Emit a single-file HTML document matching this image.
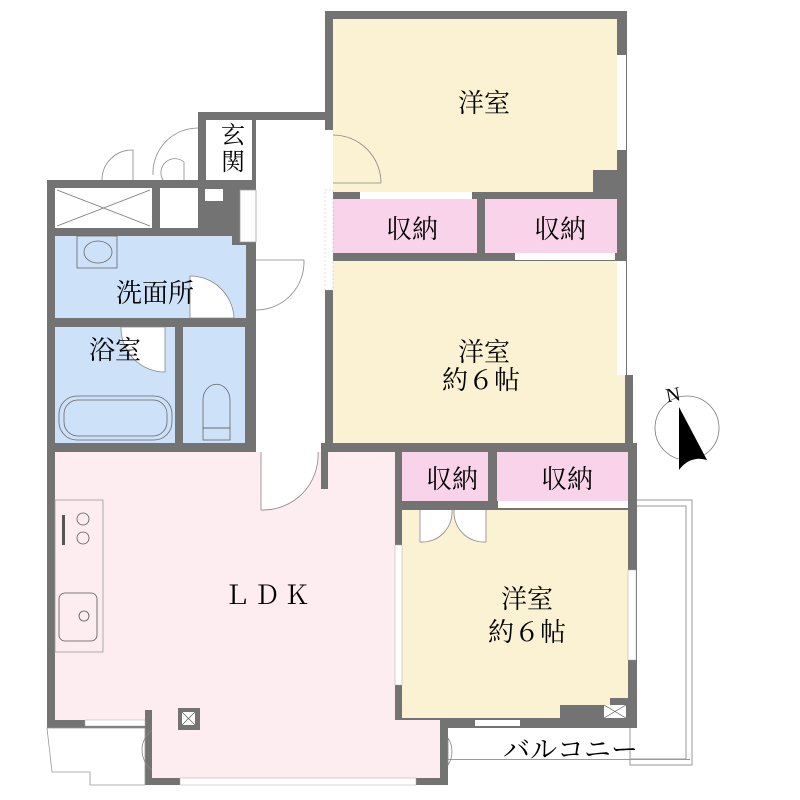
<!DOCTYPE html>
<html><head><meta charset="utf-8"><style>
html,body{margin:0;padding:0;background:#fff;}
svg{display:block;}
text{font-family:"Liberation Serif","Noto Serif CJK SC",serif;fill:#000;}
</style></head><body>
<svg width="800" height="800" viewBox="0 0 800 800" xmlns="http://www.w3.org/2000/svg">
<!-- balcony outline -->
<rect x="630" y="500" width="62" height="265" fill="none" stroke="#999" stroke-width="1"/>
<rect x="630" y="506" width="56" height="253" fill="none" stroke="#999" stroke-width="1"/>
<rect x="440" y="759" width="250" height="1" fill="#999"/>
<!-- wall masses -->
<g fill="#737373">
<rect x="325" y="11" width="302" height="441"/>
<rect x="617" y="375" width="16" height="77"/>
<rect x="47" y="180" width="285" height="272"/>
<rect x="198" y="112" width="134" height="76"/>
<rect x="47" y="443" width="356" height="285"/>
<rect x="145" y="710" width="303" height="75"/>
<rect x="395" y="443" width="242" height="285"/>
</g>
<!-- top bedroom -->
<path d="M333 19 H617 V170 H593 V192 H333 Z" fill="#faf2d3"/>
<rect x="617" y="55" width="9" height="95" fill="#fff"/>
<rect x="360" y="192" width="112" height="7" fill="#fff"/>
<!-- storage top -->
<rect x="333" y="199" width="144" height="54" fill="#f8d3ea"/>
<rect x="485" y="199" width="132" height="54" fill="#f8d3ea"/>
<rect x="515" y="253" width="100" height="7" fill="#fff"/>
<!-- middle bedroom -->
<rect x="333" y="261" width="284" height="182" fill="#faf2d3"/>
<rect x="617" y="261" width="9" height="114" fill="#fff"/>
<rect x="617" y="375" width="8" height="68" fill="#faf2d3"/>
<!-- corridor -->
<rect x="256" y="120" width="69" height="323" fill="#fff"/>
<rect x="256" y="443" width="65" height="9" fill="#fff"/>
<rect x="325" y="130" width="8" height="60" fill="#fff"/>
<rect x="325" y="190" width="8" height="100" fill="#fff" stroke="#bbb" stroke-dasharray="2 2" stroke-width="0.5"/>
<rect x="240" y="190" width="16" height="52" fill="#fff" stroke="#999" stroke-width="0.7"/>
<!-- entrance -->
<rect x="206" y="120" width="46" height="60" fill="#fff"/>
<rect x="160" y="188" width="38" height="40" fill="#fff"/>
<rect x="205" y="189" width="18" height="12" fill="#fff"/>
<rect x="55" y="188" width="97" height="40" fill="#fff"/>
<path d="M57 190 L150 226 M150 190 L57 226" stroke="#777" stroke-width="0.8"/>
<!-- outside doors top -->
<g fill="none" stroke="#888" stroke-width="0.8">
<path d="M102 180 A30 30 0 0 1 133 150 V180"/>
<path d="M153 175 A45 45 0 0 1 198 128"/>
<path d="M163 180 A14 14 0 0 1 184 162 V180"/>
<path d="M333 135 A48 48 0 0 1 381 183 H333"/>
<path d="M256 260 H304 A48 48 0 0 1 256 310"/>
</g>
<!-- washroom -->
<path d="M55 236 H232 V245 H246 V318 H55 Z" fill="#cde1f8"/>
<rect x="77" y="236" width="40" height="32" fill="none" stroke="#666" stroke-width="0.8"/>
<ellipse cx="98" cy="252" rx="14" ry="11" fill="none" stroke="#666" stroke-width="0.8"/>
<path d="M190 318 V276 A44 44 0 0 1 234 318 Z" fill="#fff" stroke="#888" stroke-width="0.8"/>
<!-- bath -->
<rect x="55" y="327" width="120" height="116" fill="#cde1f8"/>
<path d="M121 327 H165 V372 A44 44 0 0 1 121 327Z" fill="#fff" stroke="#888" stroke-width="0.8"/>
<rect x="59" y="396" width="113" height="44" rx="18" fill="none" stroke="#666" stroke-width="0.8"/>
<rect x="64" y="400" width="103" height="36" rx="14" fill="none" stroke="#666" stroke-width="0.8"/>
<!-- toilet -->
<rect x="183" y="327" width="62" height="116" fill="#cde1f8"/>
<path d="M203 428 V400 A12 14 0 0 1 230 400 V428 Z" fill="none" stroke="#666" stroke-width="0.8"/>
<rect x="203" y="428" width="27" height="12" fill="none" stroke="#666" stroke-width="0.8"/>
<!-- LDK -->
<rect x="55" y="452" width="340" height="268" fill="#fdedf0"/>
<rect x="152" y="720" width="288" height="58" fill="#fdedf0"/>
<rect x="145" y="710" width="7" height="10" fill="#737373"/>
<rect x="178" y="708" width="22" height="22" fill="#737373"/>
<rect x="182" y="712" width="13" height="13" fill="#fff"/>
<path d="M182 712 L195 725 M195 712 L182 725" stroke="#555" stroke-width="0.7"/>
<rect x="321" y="452" width="7" height="37" fill="#737373"/>
<path d="M261 452 V510 A55 55 0 0 0 318 452" fill="#fff" stroke="#888" stroke-width="0.8"/>
<rect x="55" y="500" width="48" height="152" fill="none" stroke="#999" stroke-width="0.8"/>
<circle cx="83" cy="519" r="6" fill="none" stroke="#555" stroke-width="0.8"/>
<circle cx="83" cy="538" r="6" fill="none" stroke="#555" stroke-width="0.8"/>
<rect x="62" y="515" width="3" height="30" fill="#555"/>
<rect x="59" y="593" width="38" height="48" rx="6" fill="none" stroke="#555" stroke-width="0.8"/>
<circle cx="84" cy="616" r="5" fill="none" stroke="#555" stroke-width="0.8"/>
<!-- LDK windows -->
<rect x="85" y="720" width="60" height="6" fill="#fff" stroke="#aaa" stroke-width="0.5"/>
<rect x="180" y="778" width="236" height="7" fill="#fff" stroke="#aaa" stroke-width="0.5"/>
<!-- left balcony -->
<path d="M47 728 H145 V785 H90 V772 H52 Z" fill="none" stroke="#999" stroke-width="0.8"/>
<path d="M152 730 A25 25 0 0 0 152 770" fill="none" stroke="#888" stroke-width="0.8"/>
<path d="M448 738 V765 A25 25 0 0 0 448 738" fill="none" stroke="#888" stroke-width="0.8"/>
<!-- bottom right storages -->
<rect x="402" y="452" width="86" height="49" fill="#f8d3ea"/>
<rect x="497" y="452" width="131" height="49" fill="#f8d3ea"/>
<rect x="498" y="501" width="130" height="7" fill="#fff"/>
<!-- bottom bedroom -->
<path d="M402 510 H628 V698 H610 V705 H560 V718 H402 Z" fill="#faf2d3"/>
<rect x="395" y="545" width="7" height="140" fill="#fff" stroke="#aaa" stroke-width="0.5"/>
<rect x="628" y="570" width="8" height="90" fill="#fff" stroke="#aaa" stroke-width="0.5"/>
<rect x="475" y="720" width="45" height="6" fill="#fff"/>
<rect x="604" y="705" width="22" height="13" fill="#fff"/>
<path d="M604 705 L626 718 M626 705 L604 718" stroke="#555" stroke-width="0.7"/>
<path d="M420 510 V542 A30 30 0 0 0 452 510 M486 510 V542 A30 30 0 0 1 454 510" fill="#fff" stroke="#888" stroke-width="0.8"/>
<!-- compass -->
<circle cx="687" cy="428" r="32" fill="none" stroke="#777" stroke-width="0.8"/>
<path d="M679 407 L707 460 Q690 455 679 470 Z" fill="#000"/>
<text x="666" y="401" font-family="Liberation Sans,sans-serif" font-size="20" transform="rotate(-10 675 395)">N</text>
<!-- labels -->
<g font-size="26">
<text x="458" y="112">洋室</text>
<text x="386" y="238">収納</text>
<text x="534" y="238">収納</text>
<text x="458" y="361">洋室</text>
<text x="442" y="389">約６帖</text>
<text x="116" y="302">洗面所</text>
<text x="89" y="359">浴室</text>
<text x="426" y="488">収納</text>
<text x="541" y="488">収納</text>
<text x="224" y="604" letter-spacing="4">ＬＤＫ</text>
<text x="501" y="608">洋室</text>
<text x="488" y="641">約６帖</text>
<text x="503" y="759" font-size="27">バルコニー</text>
</g>
<text x="221" y="143" font-size="24">玄</text>
<text x="221" y="170" font-size="24">関</text>
</svg>
</body></html>
